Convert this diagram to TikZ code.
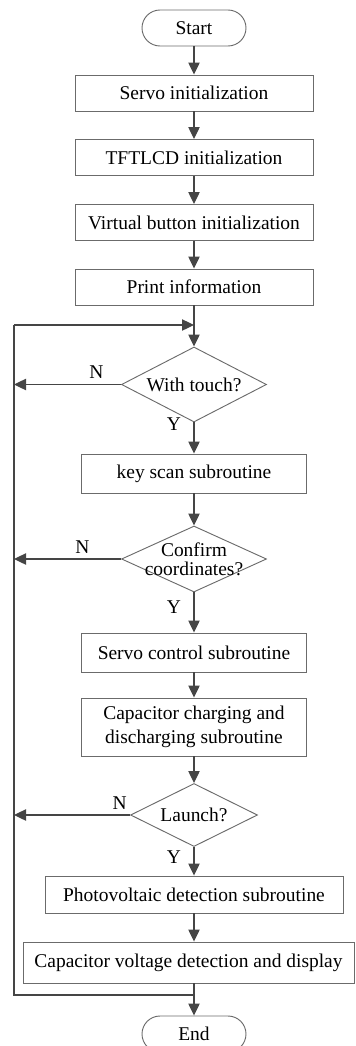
\documentclass[tikz,border=0pt]{standalone}
\usepackage{fontspec}
\setmainfont{Liberation Serif}
\usepackage{xcolor}
\usetikzlibrary{arrows.meta,positioning,shapes.geometric}
\definecolor{lineclr}{gray}{0.27}
\definecolor{edgeclr}{gray}{0.42}

\begin{document}
\begin{tikzpicture}[
    x=0.75pt, y=-0.75pt,
    font=\fontsize{14.6}{17.5}\selectfont,
    box/.style={draw=edgeclr, line width=0.7pt, minimum width=178.5pt, minimum height=27pt, inner sep=2pt, align=center},
    term/.style={draw=edgeclr, line width=0.7pt, rounded corners=13.5pt, minimum width=78pt, minimum height=27pt, inner sep=0pt},
    decision/.style={draw=edgeclr, line width=0.7pt, diamond, inner sep=-15pt, align=center},
    arr/.style={-{Triangle[length=9pt, width=8.5pt]}, draw=lineclr, line width=0.9pt},
    line/.style={draw=lineclr, line width=0.9pt}
]
\useasboundingbox (0,0) rectangle (355,1046);
\node[term] (start) at (194,28) {Start};
\node[box] (servo) at (194,93) {Servo initialization};
\node[box] (tft) at (194,157.5) {TFTLCD initialization};
\node[box] (vbtn) at (194,222.5) {Virtual button initialization};
\node[box] (print) at (194,287) {Print information};
\node[decision, minimum width=108.75pt, minimum height=56.25pt] (touch) at (194,384.5) {With touch?};
\node[box, minimum width=168.75pt, minimum height=29.25pt] (key) at (194,473.5) {key scan subroutine};
\node[decision, minimum width=108.75pt, minimum height=49.5pt] (confirm) at (194,559) {Confirm\\[-3pt]coordinates?};
\node[box, minimum width=168.75pt, minimum height=29.25pt] (sctl) at (194,652.5) {Servo control subroutine};
\node[box, minimum width=168.75pt, minimum height=43.5pt] (cap) at (194,727) {Capacitor charging and\\discharging subroutine};
\node[decision, minimum width=95.25pt, minimum height=47.25pt] (launch) at (194,815) {Launch?};
\node[box, minimum width=223.5pt, minimum height=27.75pt] (photo) at (194,894.5) {Photovoltaic detection subroutine};
\node[box, minimum width=248.25pt, minimum height=30.75pt] (capv) at (188.5,962.5) {Capacitor voltage detection and display};
\node[term] (stop) at (194,1034) {End};
% loop corners
\coordinate (jt) at (194,325);
\coordinate (jb) at (194,995);
\coordinate (lt) at (14,325);
\coordinate (lb) at (14,995);
% main flow
\draw[arr] (start) -- (servo);
\draw[arr] (servo) -- (tft);
\draw[arr] (tft) -- (vbtn);
\draw[arr] (vbtn) -- (print);
\draw[arr] (print) -- (touch);
\draw[arr] (touch) -- node[pos=0.06, left=6pt] {Y} (key);
\draw[arr] (key) -- (confirm);
\draw[arr] (confirm) -- node[pos=0.37, left=6pt] {Y} (sctl);
\draw[arr] (sctl) -- (cap);
\draw[arr] (cap) -- (launch);
\draw[arr] (launch) -- node[pos=0.37, left=6pt] {Y} (photo);
\draw[arr] (photo) -- (photo |- capv.north);
\draw[arr] (capv.south -| stop.north) -- (stop);
% return loop
\draw[line] (jb) -- (lb) -- (lt);
\draw[arr] (lt) -- (jt);
\draw[arr] (touch.west) -- node[pos=0.23, above=1pt] {N} (touch.west -| lt);
\draw[arr] (confirm.west) -- node[pos=0.36, above=0pt] {N} (confirm.west -| lt);
\draw[arr] (launch.west) -- node[pos=0.09, above=0pt] {N} (launch.west -| lt);
\end{tikzpicture}
\end{document}
